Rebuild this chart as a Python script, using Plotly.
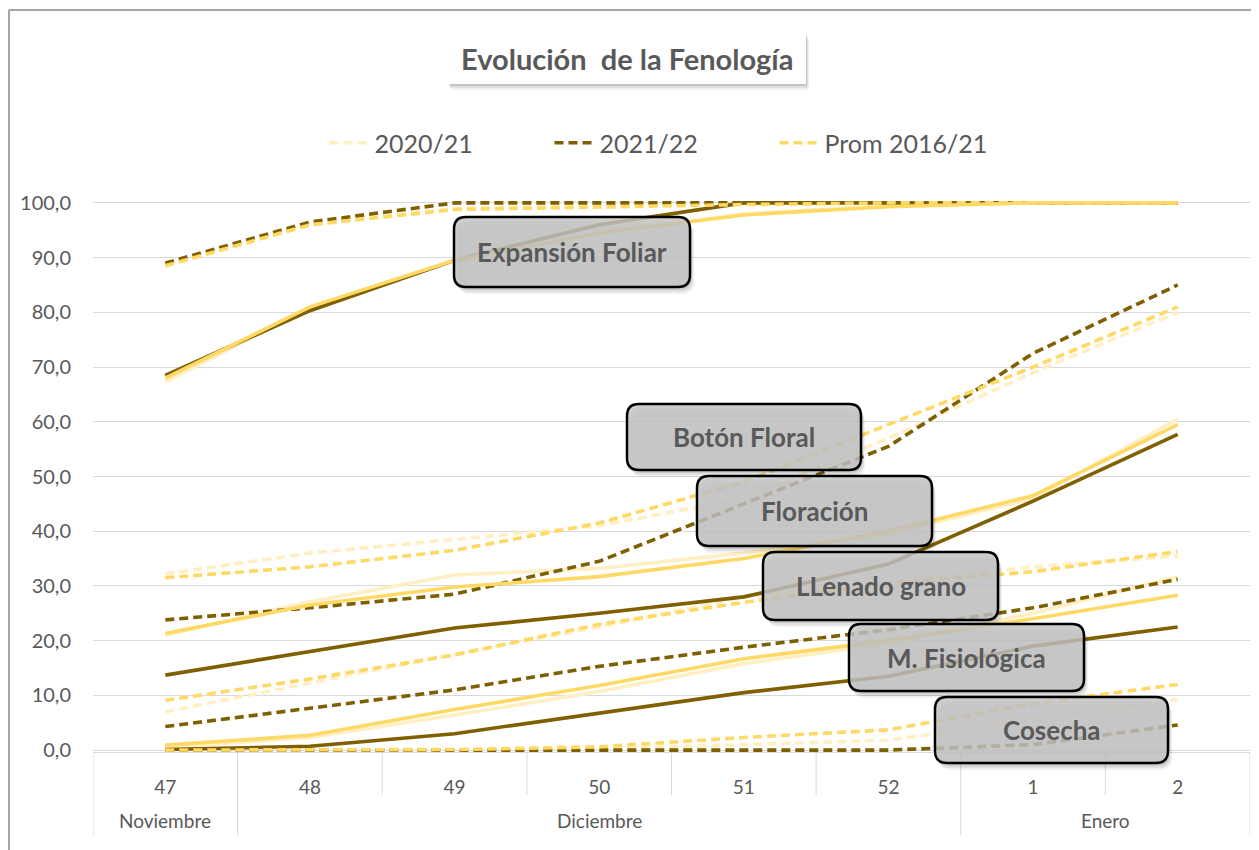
import plotly.graph_objects as go

# ---------------- data ----------------
weeks = ["47", "48", "49", "50", "51", "52", "1", "2"]
month_names = ["Noviembre", "Diciembre", "Enero"]
month_week_idx = [[0], [1, 2, 3, 4, 5], [6, 7]]   # which weeks belong to each month

series_names = ["2020/21", "2021/22", "Prom 2016/21"]

# top dashed group
grpA_2020 = [88.5, 96.0, 99.0, 99.5, 100, 100, 100, 100]
grpA_2021 = [89.0, 96.5, 100, 100, 100, 100, 100, 100]
grpA_prom = [88.5, 96.0, 98.8, 99.3, 99.7, 100, 100, 100]
# Expansión Foliar (solid)
expf_2020 = [67.3, 80.8, 89.5, 94.5, 98.0, 99.5, 100, 100]
expf_2021 = [68.5, 80.3, 89.5, 96.0, 100, 100, 100, 100]
expf_prom = [68.0, 81.0, 89.5, 94.5, 97.8, 99.3, 100, 100]
# Botón Floral (dashed)
boton_2020 = [32.2, 36.0, 38.5, 41.0, 46.0, 57.0, 69.0, 80.0]
boton_2021 = [23.8, 26.0, 28.5, 34.5, 45.0, 55.5, 72.5, 85.0]
boton_prom = [31.5, 33.5, 36.5, 41.5, 49.0, 59.5, 70.0, 81.0]
# Floración (solid)
flor_2020 = [21.0, 27.1, 32.0, 33.2, 36.0, 39.5, 46.0, 60.5]
flor_2021 = [13.7, 18.0, 22.3, 25.0, 28.0, 34.0, 45.5, 57.7]
flor_prom = [21.3, 26.5, 29.8, 31.7, 35.0, 40.0, 46.5, 59.5]
# Llenado grano (dashed)
llen_2020 = [7.0, 12.3, 17.5, 22.5, 28.0, 30.5, 33.5, 35.5]
llen_2021 = [4.3, 7.6, 11.0, 15.3, 18.8, 22.0, 26.0, 31.2]
llen_prom = [9.1, 13.0, 17.4, 23.0, 27.0, 30.5, 32.6, 36.3]
# M. Fisiológica (solid)
mfis_2020 = [0.5, 2.3, 6.4, 10.7, 15.8, 19.5, 25.0, 31.7]
mfis_2021 = [0.1, 0.7, 3.0, 6.8, 10.5, 13.5, 19.0, 22.5]
mfis_prom = [0.9, 2.7, 7.4, 11.8, 16.7, 20.0, 24.0, 28.3]
# Cosecha (dashed)
cos_2020 = [0.0, 0.0, 0.0, 0.2, 1.0, 1.8, 5.5, 9.3]
cos_2021 = [0.0, 0.0, 0.0, 0.0, 0.0, 0.0, 1.0, 4.6]
cos_prom = [0.0, 0.0, 0.1, 0.6, 2.3, 3.7, 8.5, 12.0]

stage_labels = ["Expansión Foliar", "Botón Floral", "Floración", "LLenado grano", "M. Fisiológica", "Cosecha"]

groups = [
    ("A", "dash", [grpA_2020, grpA_2021, grpA_prom]),
    ("Expansión Foliar", "solid", [expf_2020, expf_2021, expf_prom]),
    ("Botón Floral", "dash", [boton_2020, boton_2021, boton_prom]),
    ("Floración", "solid", [flor_2020, flor_2021, flor_prom]),
    ("LLenado grano", "dash", [llen_2020, llen_2021, llen_prom]),
    ("M. Fisiológica", "solid", [mfis_2020, mfis_2021, mfis_prom]),
    ("Cosecha", "dash", [cos_2020, cos_2021, cos_prom]),
]

# ---------------- style ----------------
colors = ["#FFEFC2", "#7F6000", "#FFD966"]
OFF = 8                      # page body margin of the browser
W, H = 1251, 842
ML, MR, MT, MB = 85, 9, 193, 98
PW, PH = W - ML - MR, H - MT - MB
FONT = "Lato"
GREY = "#595959"
LINEGREY = "#D9D9D9"

fig = go.Figure()

legend_done = set()
for si in range(3):
    for gname, dash, vals in groups:
        show = (dash == "dash") and (si not in legend_done)
        if show:
            legend_done.add(si)
        fig.add_trace(go.Scatter(
            x=weeks, y=vals[si], mode="lines",
            name=series_names[si], legendgroup=series_names[si],
            showlegend=show,
            line=dict(color=colors[si], width=3.6,
                      dash="9px,5px" if dash == "dash" else "solid"),
            hovertemplate=gname + " " + series_names[si] + ": %{y:.1f}<extra></extra>",
        ))


# screen-pixel -> paper helpers
def px(x):
    return (x - OFF - ML) / PW


def py(y):
    return (H - MB - (y - OFF)) / PH


def rrect(x0, y0, x1, y1, r):
    rx, ry = r / PW, r / PH
    X0, X1 = px(x0), px(x1)
    Y0, Y1 = py(y0), py(y1)
    return (f"M {X0+rx},{Y0} L {X1-rx},{Y0} Q {X1},{Y0} {X1},{Y0-ry} "
            f"L {X1},{Y1+ry} Q {X1},{Y1} {X1-rx},{Y1} "
            f"L {X0+rx},{Y1} Q {X0},{Y1} {X0},{Y1+ry} "
            f"L {X0},{Y0-ry} Q {X0},{Y0} {X0+rx},{Y0} Z")


shapes = []
annotations = []

# outer chart border (top + left)
shapes.append(dict(type="line", xref="paper", yref="paper", x0=px(9), x1=px(1262), y0=py(10), y1=py(10),
                   line=dict(color="#A6A6A6", width=2)))
shapes.append(dict(type="line", xref="paper", yref="paper", x0=px(9), x1=px(9), y0=py(10), y1=py(852),
                   line=dict(color="#A6A6A6", width=2)))

# category axis: tick separators and month dividers
n = len(weeks)
outer_bounds = [-0.5]
for idx in month_week_idx:
    outer_bounds.append(idx[-1] + 0.5)
for b in [i - 0.5 for i in range(n + 1)]:
    ybot = py(835) if b in outer_bounds else py(795)
    shapes.append(dict(type="line", xref="x", yref="paper", x0=b, x1=b, y0=0.0, y1=ybot,
                       line=dict(color=LINEGREY, width=1)))
for name, idx in zip(month_names, month_week_idx):
    annotations.append(dict(xref="x", yref="paper", x=(idx[0] + idx[-1]) / 2, y=py(820),
                            text=name, showarrow=False, xanchor="center", yanchor="middle",
                            font=dict(family=FONT, size=19, color=GREY)))

# title box
tb = (448, 33, 806, 84)
for k, a in [(6, 0.05), (4, 0.08), (2, 0.12)]:
    shapes.append(dict(type="rect", xref="paper", yref="paper", layer="above",
                       x0=px(tb[0] + k / 2), x1=px(tb[2] + k / 2), y0=py(tb[1] + k), y1=py(tb[3] + k),
                       fillcolor=f"rgba(0,0,0,{a})", line=dict(width=0)))
shapes.append(dict(type="rect", xref="paper", yref="paper", layer="above",
                   x0=px(tb[0]), x1=px(tb[2]), y0=py(tb[1]), y1=py(tb[3]),
                   fillcolor="white", line=dict(width=0)))
annotations.append(dict(xref="paper", yref="paper", x=px((tb[0] + tb[2]) / 2), y=py(58),
                        text="<b>Evolución  de la Fenología</b>", showarrow=False,
                        font=dict(family=FONT, size=29, color=GREY), xanchor="center", yanchor="middle"))

# stage label boxes
boxes = [
    (454, 217, 690, 287),
    (627, 404, 861, 470),
    (697, 476, 932, 546),
    (763, 552, 998, 620),
    (849, 624, 1084, 691),
    (935, 697, 1168, 763),
]
for lab, (x0, y0, x1, y1) in zip(stage_labels, boxes):
    for k, a in [(7, 0.05), (5, 0.07), (3, 0.09)]:
        shapes.append(dict(type="path", xref="paper", yref="paper", layer="above",
                           path=rrect(x0 + k * 0.6, y0 + k, x1 + k * 0.6, y1 + k, 12),
                           fillcolor=f"rgba(0,0,0,{a})", line=dict(width=0)))
    shapes.append(dict(type="path", xref="paper", yref="paper", layer="above",
                       path=rrect(x0, y0, x1, y1, 12),
                       fillcolor="rgba(196,196,196,0.82)", line=dict(color="#000000", width=2.5)))
    annotations.append(dict(xref="paper", yref="paper", x=px((x0 + x1) / 2), y=py((y0 + y1) / 2),
                            text=f"<b>{lab}</b>", showarrow=False,
                            font=dict(family=FONT, size=26, color=GREY),
                            xanchor="center", yanchor="middle"))

fig.update_layout(
    width=W, height=H,
    margin=dict(l=ML, r=MR, t=MT, b=MB),
    paper_bgcolor="white", plot_bgcolor="white",
    separators=",.",
    font=dict(family=FONT, color=GREY),
    showlegend=True,
    legend=dict(orientation="h", x=px(662), xanchor="center", y=py(143), yanchor="middle",
                font=dict(family=FONT, size=25, color=GREY),
                entrywidth=170, itemwidth=40, bgcolor="rgba(0,0,0,0)"),
    shapes=shapes,
    annotations=annotations,
    xaxis=dict(type="category", range=[-0.5, n - 0.5], showgrid=False,
               showline=True, linecolor=LINEGREY, linewidth=1, ticks="",
               ticklabelstandoff=18, zeroline=False,
               tickfont=dict(family=FONT, size=19, color=GREY)),
    yaxis=dict(range=[-0.35, 100.35], tickvals=[0, 10, 20, 30, 40, 50, 60, 70, 80, 90, 100],
               tickformat=".1f", showgrid=True, gridcolor=LINEGREY, gridwidth=1,
               zeroline=False, showline=False, ticks="", ticklabelstandoff=21,
               tickfont=dict(family=FONT, size=20, color=GREY)),
)

fig.write_html("out.html")
